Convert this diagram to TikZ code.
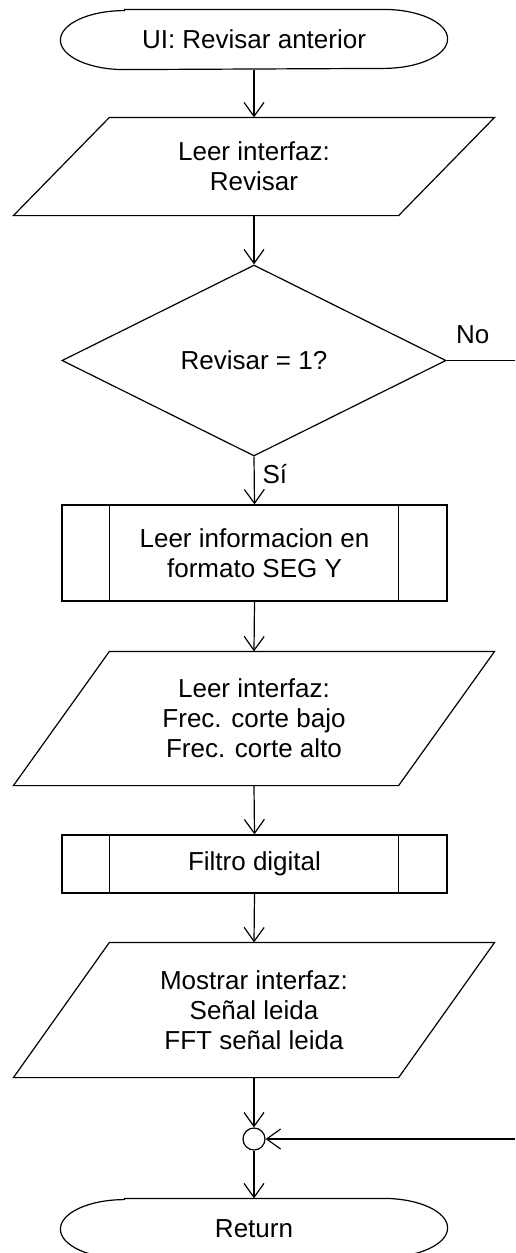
\documentclass[tikz,border=0pt]{standalone}
\usepackage{fontspec}
\setmainfont{Liberation Sans}
\usetikzlibrary{arrows.meta,shapes.geometric}
\begin{document}
\begin{tikzpicture}[x=1pt,y=-1pt,
  every node/.style={font=\fontsize{26}{30}\selectfont, text=black},
  line/.style={line width=1.2pt, draw=black},
  arr/.style={line, -{Straight Barb[length=14pt,width=20pt,line width=1.2pt]}},
  box/.style={inner sep=0pt, minimum width=384pt, align=center, line width=1.2pt},
  lbl/.style={inner sep=0pt}
]
\useasboundingbox (0,0) rectangle (515,1253);

% nodes
\node[box, minimum width=386pt, minimum height=59pt] (t1) at (254,39.5) {UI: Revisar anterior};
\node[box, minimum height=97pt] (p1) at (254,166.5) {Leer interfaz:\\Revisar};
\node[box, shape=diamond, draw, minimum width=384pt, minimum height=191pt, aspect=2] (d) at (254,360.5) {Revisar = 1?};
\node[box, draw, minimum width=385pt, minimum height=96pt] (s1) at (254.5,553) {Leer informacion en\\formato SEG Y};
\node[box, minimum height=133pt] (p2) at (254,718.5) {Leer interfaz:\\Frec. corte bajo\\Frec. corte alto};
\node[box, draw, minimum width=385pt, minimum height=58pt] (s2) at (254.5,864) {Filtro digital};
\node[box, minimum height=134pt] (p3) at (254,1010) {Mostrar interfaz:\\Señal leida\\FFT señal leida};
\node[shape=circle, draw, line width=1.2pt, minimum size=22pt, inner sep=0pt] (c) at (254,1139) {};
\node[box, minimum width=386pt, minimum height=59pt] (t2) at (254,1228.5) {Return};
\coordinate (noend) at (515,360.5);
\coordinate (back) at (515,1139);

% terminal outlines
\foreach \n in {t1,t2}{
  \draw[line] ([xshift=64pt]\n.north west) -- ([xshift=-64pt]\n.north east)
    arc[start angle=90,end angle=-90,x radius=64pt,y radius=29.5pt]
    -- ([xshift=64pt]\n.south west)
    arc[start angle=270,end angle=90,x radius=64pt,y radius=29.5pt] -- cycle;
}
% parallelogram outlines
\foreach \n in {p1,p2,p3}{
  \draw[line] ([xshift=48pt]\n.north west) -- ([xshift=48pt]\n.north east)
    -- ([xshift=-48pt]\n.south east) -- ([xshift=-48pt]\n.south west) -- cycle;
}
% predefined process inner bars
\foreach \n in {s1,s2}{
  \draw[line] ([xshift=48pt]\n.north west) -- ([xshift=48pt]\n.south west);
  \draw[line] ([xshift=-49pt]\n.north east) -- ([xshift=-49pt]\n.south east);
}

% connectors
\draw[arr] (t1.south) -- (p1.north);
\draw[arr] (p1.south) -- (d.north);
\draw[arr] (d.south) -- (s1.north) node[lbl, at start, anchor=base west, xshift=8pt, yshift=-27pt] {Sí};
\draw[line] (d.east) -- (noend) node[lbl, at start, anchor=south west, xshift=9pt, yshift=16pt] {No};
\draw[arr] (s1.south) -- (p2.north);
\draw[arr] (p2.south) -- (s2.north);
\draw[arr] (s2.south) -- (p3.north);
\draw[arr] (p3.south) -- (c.north);
\draw[arr] (back) -- (c.east);
\draw[arr] (c.south) -- (t2.north);
\end{tikzpicture}
\end{document}
